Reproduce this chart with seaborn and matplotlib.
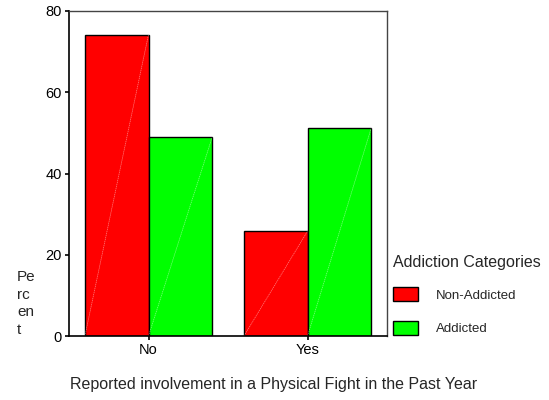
import matplotlib
matplotlib.use("Agg")
import matplotlib.pyplot as plt
import seaborn as sns
import pandas as pd

fight = ["No", "No", "Yes", "Yes"]
group = ["Non-Addicted", "Addicted", "Non-Addicted", "Addicted"]
percent = [74.2, 48.9, 25.8, 51.1]

df = pd.DataFrame({"fight": fight, "group": group, "percent": percent})

sns.set_style("white")
plt.rcParams['font.family'] = ['Liberation Sans', 'DejaVu Sans']

fig = plt.figure(figsize=(5.49, 4.0), dpi=100)
ax = fig.add_axes([0.1257, 0.16, 0.5793, 0.8125])

sns.barplot(data=df, x="fight", y="percent", hue="group",
            hue_order=["Non-Addicted", "Addicted"],
            palette={"Non-Addicted": "#ff0000", "Addicted": "#00ff00"},
            edgecolor="black", linewidth=1, width=0.8, saturation=1, ax=ax)

# faint diagonal line inside each bar
for p in ax.patches:
    x0, y0 = p.get_x(), p.get_y()
    ax.plot([x0, x0 + p.get_width()], [y0, y0 + p.get_height()],
            color="white", lw=0.5, alpha=0.5, ls=(0, (2, 1)), zorder=p.get_zorder() + 0.1)

ax.set_xlim(-0.5, 1.5)
ax.set_ylim(0, 80)
ax.set_yticks([0, 20, 40, 60, 80])
ax.tick_params(axis="both", labelsize=10.5, length=3, width=1.2, direction="out",
               left=True, bottom=True, colors="black", pad=2)
for s in ["left", "bottom"]:
    ax.spines[s].set_color("black")
    ax.spines[s].set_linewidth(1.2)
for s in ["top", "right"]:
    ax.spines[s].set_color("#444444")
    ax.spines[s].set_linewidth(1)

ax.set_xlabel("")
ax.set_ylabel("")
fig.text(0.498, 1 - 385 / 400, "Reported involvement in a Physical Fight in the Past Year",
         fontsize=11.5, ha="center", va="center")
fig.text(17 / 549, 1 - 337 / 400, "Pe\nrc\nen\nt", fontsize=11, ha="left", va="bottom",
         linespacing=1.32)

leg = ax.legend(title="Addiction Categories", loc="upper left",
                bbox_to_anchor=(388 / 549, 1 - 250 / 400), bbox_transform=fig.transFigure,
                frameon=False, fontsize=9.5, title_fontsize=11.5,
                handlelength=1.9, handleheight=1.3, labelspacing=1.45,
                handletextpad=1.35, borderaxespad=0)
leg._legend_box.align = "left"
leg._legend_box.sep = 12

fig.savefig("out.png", dpi=100)
